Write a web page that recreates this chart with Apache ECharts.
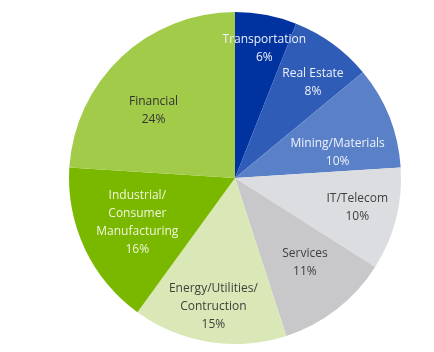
<!DOCTYPE html>
<html>
<head>
<meta charset="utf-8">
<script src="https://cdn.jsdelivr.net/npm/echarts@6/dist/echarts.min.js"></script>
<style>
  html, body { margin: 0; padding: 0; background: #fff; }
  #chart { width: 434px; height: 352px; }
</style>
</head>
<body>
<div id="chart"></div>
<script>
// sectors, clockwise from 12 o'clock
const sectors = ["Transportation", "Real Estate", "Mining/Materials", "IT/Telecom", "Services",
  "Energy/Utilities/\nContruction", "Industrial/\nConsumer\nManufacturing", "Financial"];
const shares = [6, 8, 10, 10, 11, 15, 16, 24];
const sliceColors = ["#0033a0", "#2f5cb6", "#5a80c8", "#dcdde0", "#c8c8cb", "#d9e8b6", "#7ab800", "#a3cb4a"];
const labelColors = ["#eef2fa", "#eef2fa", "#eef2fa", "#404040", "#404040", "#404040", "#f0f6dc", "#333333"];
// small per-label nudges from the default inside position
const labelNudge = [[7, -13], [8, 1], [-8, 18], [7, 0], [-3, -9], [-3, 11], [10, -6], [0, 19]];

const myChart = echarts.init(document.getElementById("chart"));

const pieData = sectors.map((name, i) => ({
  name: name,
  value: shares[i],
  itemStyle: { color: sliceColors[i] }
}));

const labelData = sectors.map((name, i) => ({
  name: name,
  value: shares[i],
  label: { color: labelColors[i] }
}));

const center = [235, 178];

myChart.setOption({
  animation: false,
  series: [
    {
      type: "pie",
      center: center,
      radius: [0, 166],
      startAngle: 90,
      clockwise: true,
      label: { show: false },
      labelLine: { show: false },
      itemStyle: { borderWidth: 0 },
      emphasis: { disabled: true },
      data: pieData
    },
    {
      // transparent ring used only to place the labels
      type: "pie",
      center: center,
      radius: [66, 166],
      startAngle: 90,
      clockwise: true,
      silent: true,
      avoidLabelOverlap: false,
      itemStyle: { color: "rgba(0,0,0,0)" },
      labelLine: { show: false },
      label: {
        show: true,
        position: "inside",
        fontFamily: "Open Sans",
        fontSize: 12,
        lineHeight: 18,
        formatter: p => p.name + "\n" + p.value + "%"
      },
      labelLayout: p => ({
        hideOverlap: false,
        dx: labelNudge[p.dataIndex][0],
        dy: labelNudge[p.dataIndex][1]
      }),
      data: labelData
    }
  ]
});
</script>
</body>
</html>
